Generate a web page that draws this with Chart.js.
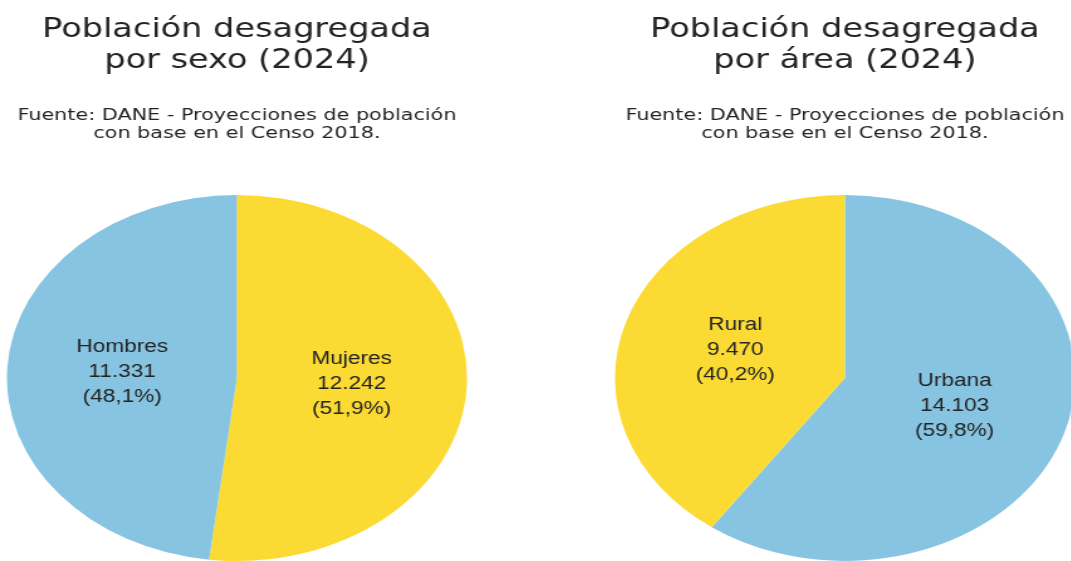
<!DOCTYPE html>
<html lang="es">
<head>
<meta charset="utf-8">
<title>Población desagregada (2024)</title>
<script src="https://cdn.jsdelivr.net/npm/chart.js@4.4.1/dist/chart.umd.min.js"></script>
<style>
    html, body {
        margin: 0;
        padding: 0;
        background: #ffffff;
        overflow: hidden;
        width: 1071px;
        height: 561px;
    }
    .chart-box {
        position: absolute;
        top: 0;
        width: 377px;
        height: 561px;
        transform: scaleX(1.257);
        transform-origin: 0 0;
    }
    #boxSexo { left: 0px; }
    #boxArea { left: 608px; }
</style>
</head>
<body>
<div class="chart-box" id="boxSexo"><canvas id="sexoChart" width="377" height="561"></canvas></div>
<div class="chart-box" id="boxArea"><canvas id="areaChart" width="377" height="561"></canvas></div>

<script>
// Datos (miles de personas)
const sexoLabels = ['Mujeres', 'Hombres'];
const sexoValues = [12242, 11331];
const areaLabels = ['Urbana', 'Rural'];
const areaValues = [14103, 9470];

const sourceLines = ['Fuente: DANE - Proyecciones de población', 'con base en el Censo 2018.'];

const blue = '#86c4e2';
const yellow = '#fbdb33';
const textColor = '#232323';

function formatThousands(value) {
    return String(value).replace(/\B(?=(\d{3})+(?!\d))/g, '.');
}

function formatPercent(value, total) {
    return '(' + (value / total * 100).toFixed(1).replace('.', ',') + '%)';
}

// Etiquetas dentro de cada porción
const sliceLabels = {
    id: 'sliceLabels',
    afterDatasetsDraw(chart) {
        const ctx = chart.ctx;
        const dataset = chart.data.datasets[0];
        const total = dataset.data.reduce((a, b) => a + b, 0);
        const meta = chart.getDatasetMeta(0);

        ctx.save();
        ctx.font = '18px "Liberation Sans", Arial, sans-serif';
        ctx.fillStyle = textColor;
        ctx.textAlign = 'center';
        ctx.textBaseline = 'middle';
        meta.data.forEach((arc, i) => {
            const pos = arc.tooltipPosition();
            const value = dataset.data[i];
            ctx.fillText(chart.data.labels[i], pos.x, pos.y - 25);
            ctx.fillText(formatThousands(value), pos.x, pos.y);
            ctx.fillText(formatPercent(value, total), pos.x, pos.y + 25);
        });
        ctx.restore();
    }
};

function makePie(canvasId, titleLines, labels, values, colors) {
    return new Chart(document.getElementById(canvasId).getContext('2d'), {
        type: 'pie',
        data: {
            labels: labels,
            datasets: [{
                data: values,
                backgroundColor: colors,
                borderWidth: 0
            }]
        },
        options: {
            responsive: false,
            animation: false,
            layout: {
                padding: 0
            },
            plugins: {
                legend: { display: false },
                tooltip: { enabled: false },
                title: {
                    display: true,
                    text: titleLines,
                    color: textColor,
                    font: { family: '"DejaVu Sans", Verdana, sans-serif', size: 26.7, weight: 'normal', lineHeight: '31px' },
                    padding: { top: 15, bottom: 10 }
                },
                subtitle: {
                    display: true,
                    text: sourceLines,
                    color: textColor,
                    font: { family: '"DejaVu Sans", Verdana, sans-serif', size: 16.5, weight: 'normal', lineHeight: '18px' },
                    padding: { top: 20, bottom: 52 }
                }
            }
        },
        plugins: [sliceLabels]
    });
}

const sexoChart = makePie('sexoChart', ['Población desagregada', 'por sexo (2024)'], sexoLabels, sexoValues, [yellow, blue]);
const areaChart = makePie('areaChart', ['Población desagregada', 'por área (2024)'], areaLabels, areaValues, [blue, yellow]);
</script>
</body>
</html>
